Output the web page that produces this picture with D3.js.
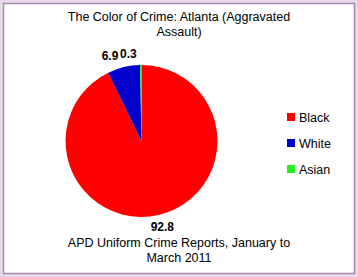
<!DOCTYPE html>
<html>
<head>
<meta charset="utf-8">
<script src="https://d3js.org/d3.v7.min.js"></script>
<style>
  html, body { margin: 0; padding: 0; background: #e8d9ea; }
  svg { display: block; font-family: "Liberation Sans", Arial, sans-serif; }
</style>
</head>
<body>
<div id="chart"></div>
<script>
var races = ['Black', 'White', 'Asian'];
var shares = [92.8, 6.9, 0.3];
var raceColors = ['#ff0000', '#0000cc', '#22ee22'];
var titleLines = ['The Color of Crime: Atlanta (Aggravated', 'Assault)'];
var footLines = ['APD Uniform Crime Reports, January to', 'March 2011'];

var width = 358, height = 277,
  cx = 141.5, cy = 141, radius = 76;

var svg = d3.select('#chart').append('svg')
  .attr('width', width)
  .attr('height', height);

// panel with border
svg.append('rect')
  .attr('x', 3.5).attr('y', 3.5)
  .attr('width', 351).attr('height', 270)
  .attr('fill', '#fff')
  .attr('stroke', '#a48aae')
  .attr('stroke-width', 1.5);

var color = d3.scaleOrdinal().domain(races).range(raceColors);

var data = races.map(function (r, i) { return { race: r, value: shares[i] }; });

var pie = d3.pie().sort(null).value(function (d) { return d.value; });
var arc = d3.arc().innerRadius(0).outerRadius(radius);

var g = svg.append('g').attr('transform', 'translate(' + cx + ',' + cy + ')');
var arcs = pie(data);

g.selectAll('path')
  .data(arcs)
  .enter()
  .append('path')
  .attr('d', arc)
  .attr('fill', function (d) { return color(d.data.race); });

// value labels just outside the slice
g.selectAll('text.val')
  .data(arcs)
  .enter()
  .append('text')
  .attr('class', 'val')
  .attr('font-size', 12)
  .attr('font-weight', 'bold')
  .attr('fill', '#000')
  .each(function (d) {
    var a = (d.startAngle + d.endAngle) / 2,
      s = Math.sin(a), c = -Math.cos(a),
      px = s * (radius + 6), py = c * (radius + 6),
      t = d3.select(this).text(d3.format('.1f')(d.value));
    if (c > 0) {
      t.attr('x', px + s * 11).attr('y', py + 10).attr('text-anchor', 'middle');
    } else {
      t.attr('x', px - 4).attr('y', py - 1).attr('text-anchor', s < 0 ? 'end' : 'start');
    }
  });

// title
svg.append('g').selectAll('text')
  .data(titleLines)
  .enter()
  .append('text')
  .attr('x', width / 2)
  .attr('y', function (d, i) { return 21 + i * 15; })
  .attr('text-anchor', 'middle')
  .attr('font-size', 12.5)
  .attr('fill', '#000')
  .text(function (d) { return d; });

// footnote
svg.append('g').selectAll('text')
  .data(footLines)
  .enter()
  .append('text')
  .attr('x', width / 2)
  .attr('y', function (d, i) { return 247 + i * 15; })
  .attr('text-anchor', 'middle')
  .attr('font-size', 12.5)
  .attr('fill', '#000')
  .text(function (d) { return d; });

// legend
var legend = svg.append('g').attr('transform', 'translate(287,113)');
var item = legend.selectAll('g')
  .data(races)
  .enter()
  .append('g')
  .attr('transform', function (d, i) { return 'translate(0,' + i * 26 + ')'; });
item.append('rect')
  .attr('width', 8).attr('height', 8)
  .attr('fill', function (d) { return color(d); });
item.append('text')
  .attr('x', 12).attr('y', 8.5)
  .attr('font-size', 12.5)
  .attr('fill', '#000')
  .text(function (d) { return d; });
</script>
</body>
</html>
